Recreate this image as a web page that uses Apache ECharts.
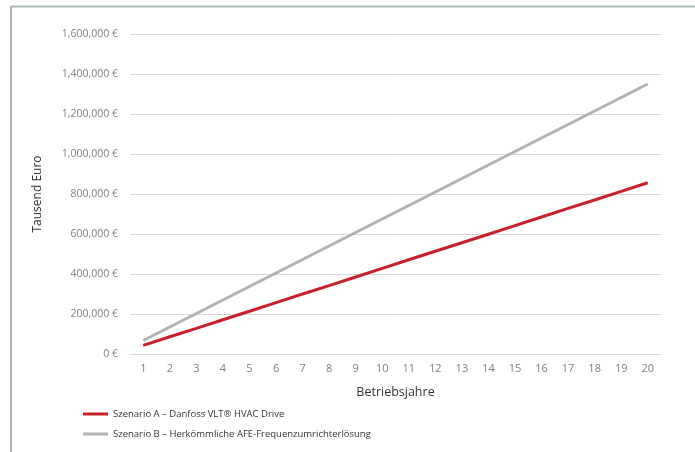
<!DOCTYPE html>
<html>
<head>
<meta charset="utf-8">
<script src="https://cdn.jsdelivr.net/npm/echarts@6/dist/echarts.min.js"></script>
<style>
html,body{margin:0;padding:0;background:#fff;}
#chart{width:695px;height:452px;}
</style>
</head>
<body>
<div id="chart"></div>
<script>
var years = ['1','2','3','4','5','6','7','8','9','10','11','12','13','14','15','16','17','18','19','20'];
var scenarioA = [43000, 86000, 128000, 171000, 214000, 257000, 300000, 342000, 385000, 428000, 471000, 514000, 556000, 599000, 642000, 685000, 728000, 770000, 813000, 856000];
var scenarioB = [67500, 135000, 202500, 270000, 337500, 405000, 472500, 540000, 607500, 675000, 742500, 810000, 877500, 945000, 1012500, 1080000, 1147500, 1215000, 1282500, 1350000];
var nameA = 'Szenario A – Danfoss VLT® HVAC Drive';
var nameB = 'Szenario B – Herkömmliche AFE-Frequenzumrichterlösung';
var yAxisTitle = 'Tausend Euro';
var xAxisTitle = 'Betriebsjahre';

var FONT = '"Open Sans", "Noto Sans", sans-serif';
var chart = echarts.init(document.getElementById('chart'), null, {renderer: 'canvas'});
function fmt(v) {
  return v.toString().replace(/\B(?=(\d{3})+(?!\d))/g, ',') + ' €';
}
chart.setOption({
  animation: false,
  textStyle: {fontFamily: FONT},
  grid: {left: 130, right: 34, top: 34, bottom: 98, containLabel: false},
  graphic: [
    {type: 'line', shape: {x1: 11, y1: 6.5, x2: 695, y2: 6.5}, style: {stroke: '#a9b7ba', lineWidth: 2}},
    {type: 'line', shape: {x1: 11, y1: 6, x2: 11, y2: 452}, style: {stroke: '#a9b7ba', lineWidth: 2}}
  ],
  legend: {
    orient: 'vertical',
    left: 78,
    top: 402,
    itemWidth: 25,
    itemHeight: 3,
    itemGap: 6,
    icon: 'rect',
    textStyle: {fontFamily: FONT, fontSize: 9.5, color: '#333', lineHeight: 14},
    data: [nameA, nameB]
  },
  xAxis: {
    type: 'category',
    data: years,
    boundaryGap: true,
    name: xAxisTitle,
    nameLocation: 'middle',
    nameGap: 32,
    nameTextStyle: {fontFamily: FONT, fontSize: 12.5, color: '#333'},
    axisLine: {show: true, lineStyle: {color: '#d9d9d9', width: 1}},
    axisTick: {show: false},
    axisLabel: {color: '#808080', fontSize: 11, margin: 9, fontFamily: FONT}
  },
  yAxis: {
    type: 'value',
    min: 0,
    max: 1600000,
    interval: 200000,
    name: yAxisTitle,
    nameLocation: 'middle',
    nameGap: 86,
    nameRotate: 90,
    nameTextStyle: {fontFamily: FONT, fontSize: 12, color: '#333'},
    axisLine: {show: false},
    axisTick: {show: false},
    axisLabel: {color: '#808080', fontSize: 10.5, margin: 12, fontFamily: FONT, formatter: fmt},
    splitLine: {lineStyle: {color: '#d9d9d9', width: 1}}
  },
  series: [
    {
      name: nameA, type: 'line', data: scenarioA, symbol: 'none',
      lineStyle: {color: '#c8202b', width: 3}, itemStyle: {color: '#c8202b'}
    },
    {
      name: nameB, type: 'line', data: scenarioB, symbol: 'none',
      lineStyle: {color: '#b2b2b5', width: 3}, itemStyle: {color: '#b2b2b5'}
    }
  ]
});
</script>
</body>
</html>
